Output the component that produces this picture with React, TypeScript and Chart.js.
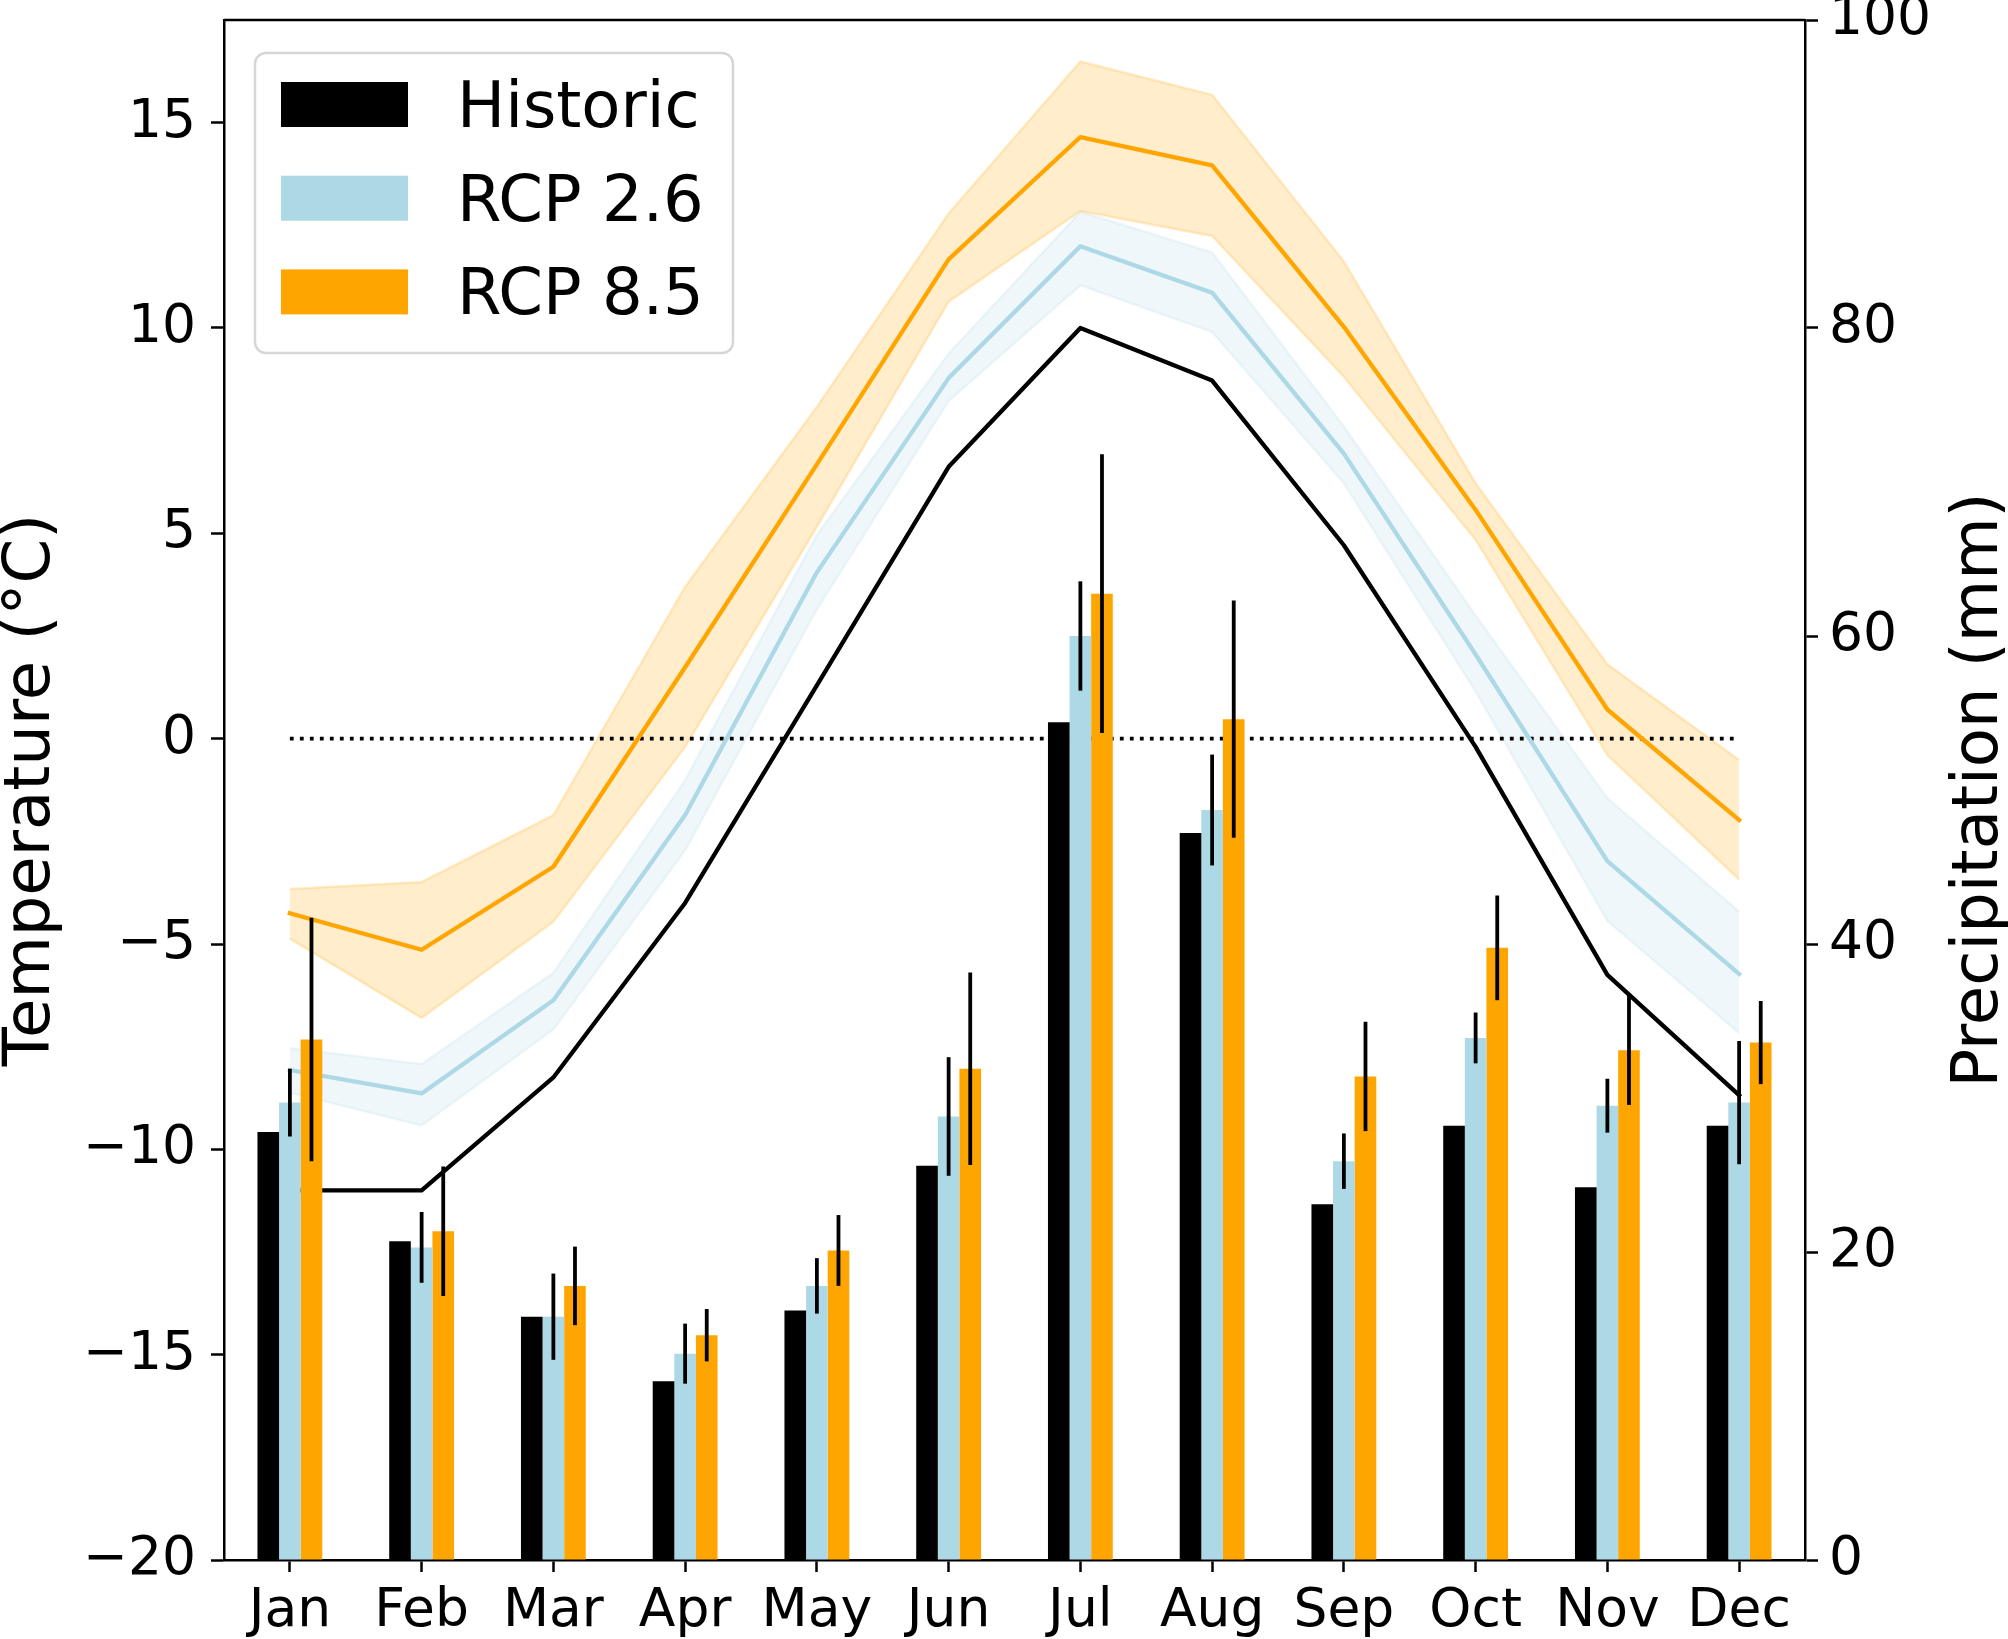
import { useEffect, useRef } from 'react';
import { Chart, registerables } from 'chart.js';

Chart.register(...registerables);
Chart.defaults.font.family = "'DejaVu Sans', sans-serif";
Chart.defaults.color = '#000';

const months = ['Jan', 'Feb', 'Mar', 'Apr', 'May', 'Jun', 'Jul', 'Aug', 'Sep', 'Oct', 'Nov', 'Dec'];

// Monthly mean temperature (°C) - left axis
const historicTemp = [-11.0, -11.0, -8.25, -4.0, 1.3, 6.62, 10.0, 8.72, 4.71, -0.2, -5.75, -8.68];
const rcp26Temp = [-8.07, -8.64, -6.37, -1.86, 4.05, 8.78, 11.99, 10.86, 6.94, 2.05, -2.98, -5.73];
const rcp26TempLow = [-8.62, -9.42, -7.08, -2.72, 3.15, 8.22, 11.04, 9.9, 6.22, 1.15, -4.44, -7.17];
const rcp26TempHigh = [-7.54, -7.92, -5.7, -1.01, 4.96, 9.38, 12.83, 11.84, 7.6, 3.0, -1.45, -4.21];
const rcp85Temp = [-4.25, -5.14, -3.12, 1.74, 6.68, 11.67, 14.65, 13.96, 10.03, 5.57, 0.71, -1.98];
const rcp85TempLow = [-4.87, -6.8, -4.46, -0.2, 5.16, 10.64, 12.85, 12.24, 8.81, 4.84, -0.4, -3.43];
const rcp85TempHigh = [-3.66, -3.49, -1.86, 3.7, 8.08, 12.79, 16.49, 15.68, 11.62, 6.22, 1.81, -0.52];
const freezingLine = [0, 0, 0, 0, 0, 0, 0, 0, 0, 0, 0, 0];

// Monthly precipitation (mm) - right axis
const historicPrecip = [27.8, 20.7, 15.8, 11.6, 16.2, 25.6, 54.4, 47.2, 23.1, 28.2, 24.2, 28.2];
const rcp26Precip = [29.7, 20.3, 15.8, 13.4, 17.8, 28.8, 60.0, 48.7, 25.9, 33.9, 29.5, 29.7];
const rcp26PrecipErr = [2.2, 2.3, 2.8, 1.95, 1.8, 3.85, 3.55, 3.6, 1.8, 1.65, 1.75, 4.0];
const rcp85Precip = [33.8, 21.35, 17.8, 14.6, 20.1, 31.9, 62.75, 54.6, 31.4, 39.75, 33.1, 33.6];
const rcp85PrecipErr = [7.9, 4.2, 2.55, 1.7, 2.3, 6.25, 9.05, 7.7, 3.55, 3.4, 3.55, 2.7];

const tempTicks = [-20, -15, -10, -5, 0, 5, 10, 15];
const precipTicks = [0, 20, 40, 60, 80, 100];

const legendItems = [
  { label: 'Historic', color: '#000000' },
  { label: 'RCP 2.6', color: '#add8e6' },
  { label: 'RCP 8.5', color: '#ffa500' },
];

const minus = (v: number | string) => String(v).replace('-', '\u2212');

// vertical error bars on the precipitation bars
const errorBarPlugin = {
  id: 'errorBars',
  afterDatasetsDraw(chart: any) {
    const { ctx } = chart;
    const yScale = chart.scales.y1;
    ctx.save();
    ctx.strokeStyle = '#000';
    ctx.lineWidth = 3.8;
    chart.data.datasets.forEach((ds: any, i: number) => {
      if (!ds.errors) return;
      const meta = chart.getDatasetMeta(i);
      meta.data.forEach((bar: any, j: number) => {
        const v = ds.data[j];
        const top = yScale.getPixelForValue(v + ds.errors[j]);
        const bottom = yScale.getPixelForValue(v - ds.errors[j]);
        ctx.beginPath();
        ctx.moveTo(bar.x, top);
        ctx.lineTo(bar.x, bottom);
        ctx.stroke();
      });
    });
    ctx.restore();
  },
};

// top spine, axis titles (both read bottom to top) and the legend box
const decorPlugin = {
  id: 'decor',
  afterDraw(chart: any) {
    const { ctx, chartArea: a } = chart;
    ctx.save();
    ctx.strokeStyle = '#000';
    ctx.lineWidth = 2.5;
    ctx.beginPath();
    ctx.moveTo(a.left, a.top);
    ctx.lineTo(a.right, a.top);
    ctx.stroke();

    ctx.fillStyle = '#000';
    ctx.font = "64px 'DejaVu Sans'";
    ctx.textAlign = 'center';
    ctx.textBaseline = 'alphabetic';
    const cy = (a.top + a.bottom) / 2;
    const titles: [number, string][] = [
      [a.left - 175, 'Temperature (°C)'],
      [a.right + 192, 'Precipitation (mm)'],
    ];
    titles.forEach(([x, text]) => {
      ctx.save();
      ctx.translate(x, cy);
      ctx.rotate(-Math.PI / 2);
      ctx.fillText(text, 0, 0);
      ctx.restore();
    });

    const bx = a.left + 31;
    const by = a.top + 33;
    ctx.beginPath();
    ctx.roundRect(bx, by, 478, 300, 11);
    ctx.fillStyle = 'rgba(255,255,255,0.8)';
    ctx.fill();
    ctx.strokeStyle = '#d6d6d6';
    ctx.lineWidth = 2.5;
    ctx.stroke();
    ctx.textAlign = 'left';
    legendItems.forEach((item, i) => {
      const py = by + 29 + i * 93.7;
      ctx.fillStyle = item.color;
      ctx.fillRect(bx + 26, py, 127, 45);
      ctx.fillStyle = '#000';
      ctx.fillText(item.label, bx + 202, py + 45);
    });
    ctx.restore();
  },
};

const axisGrid = (tickLength: number) => ({
  drawOnChartArea: false,
  drawTicks: true,
  tickLength,
  tickWidth: 2.5,
  tickColor: '#000',
  offset: false,
});
const axisBorder = { display: true, color: '#000', width: 2.5 };

export default function App() {
  const chartRef = useRef<HTMLCanvasElement>(null);
  const chartInstance = useRef<Chart | null>(null);

  useEffect(() => {
    document.body.style.margin = '0';
    document.body.style.overflow = 'hidden';
    if (!chartRef.current) return;
    if (chartInstance.current) chartInstance.current.destroy();
    const ctx = chartRef.current.getContext('2d');
    if (!ctx) return;

    const line = (data: number[], color: string, order: number) => ({
      type: 'line' as const,
      data,
      yAxisID: 'y',
      borderColor: color,
      borderWidth: 4.3,
      borderJoinStyle: 'round' as const,
      borderCapStyle: 'square' as const,
      pointRadius: 0,
      tension: 0,
      fill: false,
      order,
    });
    const bandEdge = (data: number[], rgb: string, fill: any, order: number) => ({
      type: 'line' as const,
      data,
      yAxisID: 'y',
      borderColor: `rgba(${rgb},0.2)`,
      backgroundColor: `rgba(${rgb},0.2)`,
      borderWidth: 2.5,
      pointRadius: 0,
      tension: 0,
      fill,
      order,
    });

    chartInstance.current = new Chart(ctx, {
      type: 'bar',
      data: {
        labels: months,
        datasets: [
          { label: 'Historic', data: historicPrecip, backgroundColor: '#000000', yAxisID: 'y1', order: 0 },
          { label: 'RCP 2.6', data: rcp26Precip, errors: rcp26PrecipErr, backgroundColor: '#add8e6', yAxisID: 'y1', order: 0 } as any,
          { label: 'RCP 8.5', data: rcp85Precip, errors: rcp85PrecipErr, backgroundColor: '#ffa500', yAxisID: 'y1', order: 0 } as any,
          line(historicTemp, '#000000', 1),
          bandEdge(rcp26TempLow, '173,216,230', false, 8),
          bandEdge(rcp26TempHigh, '173,216,230', '-1', 7),
          line(rcp26Temp, '#add8e6', 2),
          bandEdge(rcp85TempLow, '255,165,0', false, 6),
          bandEdge(rcp85TempHigh, '255,165,0', '-1', 5),
          line(rcp85Temp, '#ffa500', 3),
          { ...line(freezingLine, '#000000', 4), borderWidth: 3.8, borderDash: [3.8, 6.2], borderCapStyle: 'butt' },
        ] as any,
      },
      options: {
        animation: false,
        responsive: true,
        maintainAspectRatio: false,
        layout: { padding: { top: 20, left: 0, right: 0, bottom: 0 } },
        datasets: { bar: { categoryPercentage: 0.492, barPercentage: 1.0, borderWidth: 0 } },
        plugins: {
          legend: { display: false },
          tooltip: { enabled: false },
        },
        scales: {
          x: {
            type: 'category',
            offset: true,
            grid: axisGrid(12),
            border: axisBorder,
            ticks: { color: '#000', font: { size: 53.5 }, padding: 8, maxRotation: 0, autoSkip: false },
            afterFit: (s: any) => {
              s.height = 79;
              s.paddingLeft = 0;
              s.paddingRight = 0;
            },
          },
          y: {
            position: 'left',
            min: -20,
            max: 17.5,
            grid: axisGrid(13),
            border: axisBorder,
            afterBuildTicks: (s: any) => {
              s.ticks = tempTicks.map((value) => ({ value }));
            },
            ticks: { color: '#000', font: { size: 53.5 }, padding: 15, callback: (v: any) => minus(v) },
            afterFit: (s: any) => {
              s.width = 224;
              s.paddingTop = 0;
              s.paddingBottom = 0;
            },
          },
          y1: {
            position: 'right',
            min: 0,
            max: 100,
            grid: axisGrid(13),
            border: axisBorder,
            afterBuildTicks: (s: any) => {
              s.ticks = precipTicks.map((value) => ({ value }));
            },
            ticks: { color: '#000', font: { size: 53.5 }, padding: 11 },
            afterFit: (s: any) => {
              s.width = 203;
              s.paddingTop = 0;
              s.paddingBottom = 0;
            },
          },
        },
      } as any,
      plugins: [errorBarPlugin, decorPlugin],
    });

    return () => {
      if (chartInstance.current) {
        chartInstance.current.destroy();
        chartInstance.current = null;
      }
    };
  }, []);

  return (
    <div style={{ width: 2008, height: 1639, position: 'relative', background: '#fff' }}>
      <canvas ref={chartRef}></canvas>
    </div>
  );
}
